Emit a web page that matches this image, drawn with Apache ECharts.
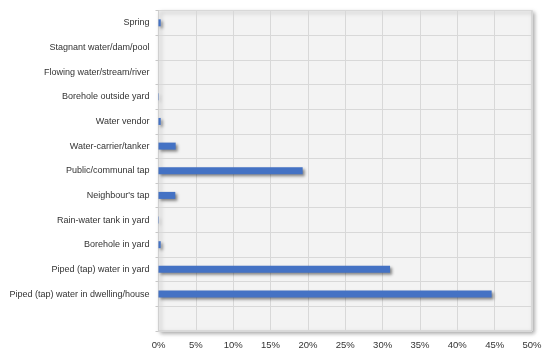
<!DOCTYPE html>
<html><head><meta charset="utf-8">
<script src="https://cdn.jsdelivr.net/npm/echarts@6/dist/echarts.min.js"></script>
<style>html,body{margin:0;padding:0;background:#fff}#c{width:550px;height:355px}</style>
</head><body><div id="c"></div>
<script>
// categories from bottom to top ('' = empty bottom band)
const categories = ['', 'Piped (tap) water in dwelling/house', 'Piped (tap) water in yard', 'Borehole in yard',
  'Rain-water tank in yard', "Neighbour's tap", 'Public/communal tap', 'Water-carrier/tanker',
  'Water vendor', 'Borehole outside yard', 'Flowing water/stream/river', 'Stagnant water/dam/pool', 'Spring'];
const values = [null, 44.6, 31.0, 0.3, 0.05, 2.25, 19.3, 2.3, 0.3, 0.05, 0, 0, 0.3];
const xTicks = [0, 5, 10, 15, 20, 25, 30, 35, 40, 45, 50];

const FONT = '"Liberation Sans", Arial, sans-serif';
const chart = echarts.init(document.getElementById('c'));
chart.setOption({
  animation: false,
  grid: {
    left: 158.5, right: 18, top: 10.5, bottom: 24,
    outerBoundsMode: 'none', containLabel: false,
    show: true, backgroundColor: '#F3F3F3', borderColor: '#C8C8C8', borderWidth: 1,
    shadowColor: 'rgba(0,0,0,0.35)', shadowBlur: 4, shadowOffsetX: 2, shadowOffsetY: 2
  },
  xAxis: {
    type: 'value', min: xTicks[0], max: xTicks[xTicks.length - 1], interval: 5,
    axisLine: { show: false }, axisTick: { show: false },
    splitLine: { lineStyle: { color: '#D8D8D8', width: 1 } },
    axisLabel: { formatter: v => v + '%', color: '#333', fontFamily: FONT, fontSize: 9.5, margin: 9 }
  },
  yAxis: {
    type: 'category', data: categories,
    axisLine: { show: true, lineStyle: { color: '#D0D0D0' } },
    axisTick: { show: true, length: 3, lineStyle: { color: '#C8C8C8' } },
    splitLine: { show: true, lineStyle: { color: '#D8D8D8', width: 1 } },
    axisLabel: { color: '#333', fontFamily: FONT, fontSize: 9, margin: 9 }
  },
  series: [{
    type: 'bar', data: values, barWidth: 7,
    itemStyle: { color: '#4472C4', shadowColor: 'rgba(0,0,0,0.45)', shadowBlur: 3, shadowOffsetX: 2, shadowOffsetY: 2 }
  }]
});
</script></body></html>
